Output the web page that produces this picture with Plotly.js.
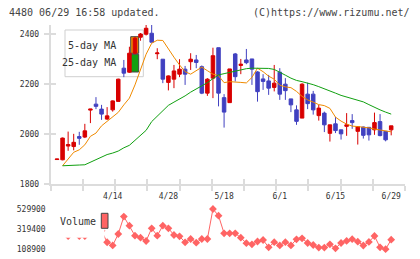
<!DOCTYPE html>
<html><head><meta charset="utf-8">
<script src="https://cdn.plot.ly/plotly-3.0.1.min.js"></script>
<style>html,body{margin:0;padding:0;background:#fff}#chart{width:420px;height:259px}</style>
</head><body><div id="chart"></div>
<script>
const dates = ['3/31','4/1','4/2','4/3','4/6','4/7','4/8','4/9','4/10','4/13','4/14','4/15','4/16','4/17','4/20','4/21','4/22','4/23','4/24','4/27','4/28','4/30','5/1','5/7','5/8','5/11','5/12','5/13','5/14','5/15','5/18','5/19','5/20','5/21','5/22','5/25','5/26','5/27','5/28','5/29','6/1','6/2','6/3','6/4','6/5','6/8','6/9','6/10','6/11','6/12','6/15','6/16','6/17','6/18','6/19','6/22','6/23','6/24','6/25','6/26','6/29'];
const openP  = [1898,1897,1952,1950,1990,1988,2096,2120,2100,2060,2097,2131,2264,2248,2324,2388,2400,2404,2322,2300,2207,2220,2240,2260,2290,2297,2270,2164,2224,2346,2146,2126,2321,2275,2297,2301,2249,2221,2213,2187,2248,2200,2141,2097,2064,2160,2160,2074,2084,2003,2041,2017,2031,2054,2011,2028,2027,2017,2050,2011,2017];
const highP  = [1900,1986,2010,2001,2009,2041,2100,2148,2117,2108,2135,2222,2297,2350,2390,2405,2437,2437,2344,2300,2235,2277,2300,2273,2324,2317,2275,2224,2346,2346,2160,2261,2325,2301,2341,2301,2252,2240,2237,2277,2264,2224,2141,2115,2204,2206,2173,2117,2090,2037,2068,2017,2084,2080,2031,2030,2028,2086,2080,2011,2033];
const lowP   = [1898,1895,1933,1935,1957,1984,2044,2100,2057,2057,2090,2130,2228,2245,2320,2374,2395,2368,2300,2204,2175,2184,2228,2197,2257,2264,2160,2153,2144,2111,2026,2126,2211,2240,2280,2197,2130,2177,2157,2171,2137,2137,2088,2037,2064,2100,2078,2054,2008,1970,2004,1978,1993,2021,1958,1982,1974,1997,1991,1971,1995];
const closeP = [1900,1984,1958,1967,1983,2013,2100,2111,2080,2073,2133,2220,2244,2324,2384,2401,2424,2368,2325,2220,2233,2253,2260,2240,2300,2287,2164,2220,2314,2164,2088,2261,2230,2280,2286,2260,2170,2211,2184,2204,2160,2174,2117,2051,2200,2122,2097,2104,2037,2037,2014,2001,2037,2046,2030,1995,1997,2046,1994,1977,2033];
const ma5  = [null,1873,1900,1927,1937,1957,1991,2004,2033,2051,2070,2087,2117,2144,2197,2257,2320,2364,2376,2375,2340,2308,2277,2250,2240,2255,2268,2254,2240,2234,2206,2210,2210,2207,2205,2227,2264,2250,2232,2220,2196,2189,2186,2171,2151,2137,2128,2118,2114,2103,2068,2052,2040,2032,2030,2029,2025,2020,2017,2012,2009];
const ma25 = [null,1873,1875,1876,1876,1877,1888,1898,1910,1918,1924,1932,1945,1955,1975,1995,2015,2050,2072,2097,2115,2128,2140,2153,2168,2180,2193,2206,2222,2237,2242,2247,2253,2258,2262,2264,2264,2264,2263,2259,2246,2236,2224,2215,2210,2205,2198,2190,2182,2175,2164,2155,2148,2140,2133,2129,2118,2106,2097,2088,2080];
const volume = [300000,420000,245000,300000,245000,245000,350000,320000,300000,180000,147000,266800,450000,354100,248900,227800,193100,326800,248900,354100,326800,256300,242600,179400,214200,175200,214200,214200,529900,459400,274100,274100,274100,227800,170000,158400,188000,203600,126800,181000,147000,181000,147000,211000,221500,172000,151000,124000,124000,158400,116300,172000,194000,212000,186000,146000,183000,245700,126800,107000,207000];
const priceTicks = [1800, 2000, 2200, 2400];
const volumeTicks = [108900, 319400, 529900];
const labelDates = ['4/14','4/28','5/18','6/1','6/15','6/29'];

const W = 420, H = 259;
const px = v => v / W;
const py = v => 1 - v / H;
const idx = dates.map((d, i) => i);
const xRange = [-1.13, 62.48];
const yRange = [1800, 2437];
const tickPos = Array.from({length: 12}, (_, i) => xRange[0] + i * (xRange[1] - xRange[0]) / 11);
const labelIdx = labelDates.map(d => dates.indexOf(d));
const volPerPx = (volumeTicks[2] - volumeTicks[0]) / 40;
const volRange = [volumeTicks[0] - 6 * volPerPx, volumeTicks[2] + 6 * volPerPx];

const RED = '#d80000', BLUE = '#4040c0', ORANGE = '#f08a00', GREEN = '#10a010', VOL = '#ff6464';
const MONO = 'DejaVu Sans Mono, monospace';
const axisGray = '#dcdcdc';

const traces = [
  {type: 'candlestick', x: idx, open: openP, high: highP, low: lowP, close: closeP,
   xaxis: 'x', yaxis: 'y', whiskerwidth: 0, hoverinfo: 'skip', showlegend: false,
   increasing: {line: {color: RED, width: 1}, fillcolor: RED},
   decreasing: {line: {color: BLUE, width: 1}, fillcolor: BLUE}},
  {type: 'scatter', mode: 'lines', x: idx, y: ma5, xaxis: 'x2', yaxis: 'y',
   line: {color: ORANGE, width: 1}, hoverinfo: 'skip', showlegend: false},
  {type: 'scatter', mode: 'lines', x: idx, y: ma25, xaxis: 'x3', yaxis: 'y3',
   line: {color: GREEN, width: 1}, hoverinfo: 'skip', showlegend: false},
  {type: 'scatter', mode: 'lines+markers', x: idx, y: volume, xaxis: 'x', yaxis: 'y2',
   line: {color: VOL, width: 1}, marker: {symbol: 'diamond', size: 6, color: VOL},
   hoverinfo: 'skip', showlegend: false}
];

const layout = {
  width: W, height: H, margin: {l: 0, r: 0, t: 0, b: 0},
  paper_bgcolor: '#fff', plot_bgcolor: 'rgba(0,0,0,0)',
  showlegend: false, boxgap: 0.1, dragmode: false,
  font: {family: MONO, size: 8, color: '#333'},
  xaxis: {domain: [px(50.7), px(405)], range: xRange, anchor: 'y', rangeslider: {visible: false},
    showline: true, linecolor: axisGray, linewidth: 2, ticks: 'outside', ticklen: 5, tickwidth: 2,
    tickcolor: axisGray, tickmode: 'array', tickvals: tickPos, showticklabels: false,
    showgrid: false, zeroline: false, fixedrange: true},
  xaxis3: {overlaying: 'x', anchor: 'y', range: xRange, ticks: 'inside', ticklen: 5, tickwidth: 2,
    tickcolor: axisGray, tickmode: 'array', tickvals: tickPos, showticklabels: false,
    showline: false, showgrid: false, zeroline: false, fixedrange: true},
  xaxis2: {overlaying: 'x', anchor: 'y', range: xRange, ticks: '', tickmode: 'array',
    tickvals: labelIdx, ticktext: labelDates, tickfont: {family: MONO, size: 8, color: '#333'},
    ticklabelstandoff: 6, showline: false, showgrid: false, zeroline: false, fixedrange: true},
  yaxis: {domain: [py(184), py(25)], range: yRange, anchor: 'x',
    showline: true, linecolor: axisGray, linewidth: 2, ticks: 'outside', ticklen: 5, tickwidth: 2,
    tickcolor: axisGray, tickmode: 'array', tickvals: priceTicks,
    tickfont: {family: MONO, size: 8, color: '#333'}, ticklabelstandoff: 3,
    showgrid: false, zeroline: false, fixedrange: true},
  yaxis3: {overlaying: 'y', anchor: 'x', range: yRange, ticks: 'inside', ticklen: 5, tickwidth: 2,
    tickcolor: axisGray, tickmode: 'array', tickvals: priceTicks, showticklabels: false,
    showline: false, showgrid: false, zeroline: false, fixedrange: true},
  yaxis2: {domain: [py(255), py(203)], range: volRange, anchor: 'x', showline: false, ticks: '',
    tickmode: 'array', tickvals: volumeTicks, ticktext: volumeTicks.map(String),
    tickfont: {family: MONO, size: 8, color: '#333'}, ticklabelstandoff: 4,
    showgrid: false, zeroline: false, fixedrange: true},
  shapes: [
    {type: 'rect', xref: 'paper', yref: 'paper', x0: px(65), x1: px(143.3), y0: py(76.7), y1: py(30),
     fillcolor: '#fff', line: {color: '#cfcfcf', width: 1}, layer: 'below'},
    {type: 'rect', xref: 'paper', yref: 'paper', x0: px(130.7), x1: px(138.7), y0: py(53.3), y1: py(36.7),
     fillcolor: ORANGE, line: {color: '#444', width: 1}, layer: 'below'},
    {type: 'rect', xref: 'paper', yref: 'paper', x0: px(130.7), x1: px(138.7), y0: py(72), y1: py(54.3),
     fillcolor: GREEN, line: {color: '#444', width: 1}, layer: 'below'},
    {type: 'rect', xref: 'paper', yref: 'paper', x0: px(52), x1: px(104.5), y0: py(237.7), y1: py(204),
     fillcolor: '#fff', line: {width: 0}, layer: 'above'},
    {type: 'rect', xref: 'paper', yref: 'paper', x0: px(101.3), x1: px(108), y0: py(228.3), y1: py(213.3),
     fillcolor: VOL, line: {color: '#444', width: 1}, layer: 'above'}
  ],
  annotations: [
    {text: '4480 06/29 16:58 updated.', xref: 'paper', yref: 'paper', x: px(7), y: py(12),
     xanchor: 'left', yanchor: 'middle', showarrow: false, font: {family: MONO, size: 10, color: '#444'}},
    {text: '(C)https://www.rizumu.net/', xref: 'paper', yref: 'paper', x: px(412), y: py(12),
     xanchor: 'right', yanchor: 'middle', showarrow: false, font: {family: MONO, size: 10, color: '#444'}},
    {text: '5-day MA', xref: 'paper', yref: 'paper', x: px(117.5), y: py(45.5),
     xanchor: 'right', yanchor: 'middle', showarrow: false, font: {family: MONO, size: 10, color: '#333'}},
    {text: '25-day MA', xref: 'paper', yref: 'paper', x: px(117.5), y: py(63),
     xanchor: 'right', yanchor: 'middle', showarrow: false, font: {family: MONO, size: 10, color: '#333'}},
    {text: 'Volume', xref: 'paper', yref: 'paper', x: px(57.5), y: py(221.5),
     xanchor: 'left', yanchor: 'middle', showarrow: false, font: {family: MONO, size: 10, color: '#333'}}
  ]
};

Plotly.newPlot('chart', traces, layout, {staticPlot: true, displayModeBar: false});
</script>
</body></html>
